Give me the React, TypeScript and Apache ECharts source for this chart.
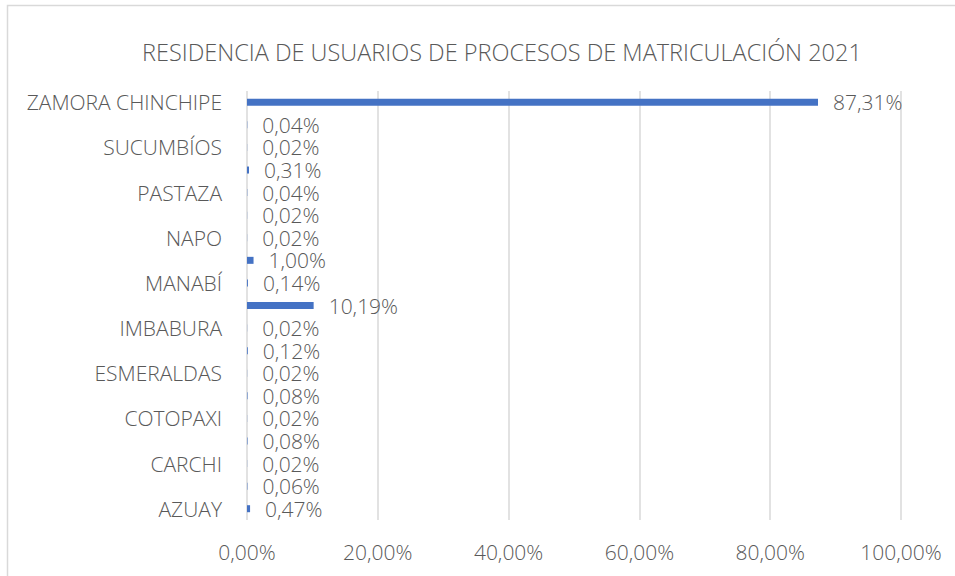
import React, { useEffect, useRef } from "react";
import * as echarts from "echarts";

const categories = [
  "AZUAY", "BOLÍVAR", "CARCHI", "CHIMBORAZO", "COTOPAXI", "EL ORO", "ESMERALDAS",
  "GUAYAS", "IMBABURA", "LOJA", "MANABÍ", "MORONA SANTIAGO", "NAPO", "ORELLANA",
  "PASTAZA", "PICHINCHA", "SUCUMBÍOS", "TUNGURAHUA", "ZAMORA CHINCHIPE",
];
const values = [
  0.47, 0.06, 0.02, 0.08, 0.02, 0.08, 0.02, 0.12, 0.02, 10.19,
  0.14, 1.0, 0.02, 0.02, 0.04, 0.31, 0.02, 0.04, 87.31,
];
const titleText = "RESIDENCIA DE USUARIOS DE PROCESOS DE MATRICULACIÓN 2021";

const fmt = (v: number) => v.toFixed(2).replace(".", ",") + "%";
const FONT = "Open Sans";
const GRAY = "#595959";

export default function App() {
  const ref = useRef<HTMLDivElement>(null);
  useEffect(() => {
    const chart = echarts.init(ref.current!, null, { renderer: "svg" });
    chart.setOption({
      animation: false,
      backgroundColor: "#ffffff",
      title: {
        text: titleText,
        left: 137,
        top: 35,
        textStyle: { fontFamily: FONT, fontSize: 23.5, fontWeight: 300, color: GRAY },
      },
      graphic: [
        {
          type: "rect",
          shape: { x: 7.5, y: 5.5, width: 1000, height: 700 },
          style: { fill: "none", stroke: "#d9d9d9", lineWidth: 1.5 },
          silent: true,
        },
      ],
      grid: { left: 247, right: 54, top: 91, bottom: 56, containLabel: false },
      xAxis: {
        type: "value",
        min: 0,
        max: 100,
        interval: 20,
        axisLine: { show: false },
        axisTick: { show: false },
        splitLine: { lineStyle: { color: "#d9d9d9", width: 1.5 } },
        axisLabel: {
          formatter: (v: number) => fmt(v),
          margin: 21,
          fontFamily: FONT,
          fontSize: 21,
          fontWeight: 300,
          color: GRAY,
        },
      },
      yAxis: {
        type: "category",
        data: categories,
        axisLine: { show: false },
        axisTick: { show: false },
        axisLabel: {
          interval: 1,
          margin: 25,
          fontFamily: FONT,
          fontSize: 21,
          fontWeight: 300,
          color: GRAY,
        },
      },
      series: [
        {
          type: "bar",
          data: values,
          barWidth: 7,
          itemStyle: { color: "#4472C4" },
          label: {
            show: true,
            position: "right",
            distance: 15,
            formatter: (p: any) => fmt(p.value),
            fontFamily: FONT,
            fontSize: 21,
            lineHeight: 21,
            fontWeight: 300,
            color: GRAY,
          },
        },
      ],
    });
    return () => chart.dispose();
  }, []);
  return (
    <div
      ref={ref}
      style={{ position: "absolute", left: 0, top: 0, width: 955, height: 576 }}
    />
  );
}
